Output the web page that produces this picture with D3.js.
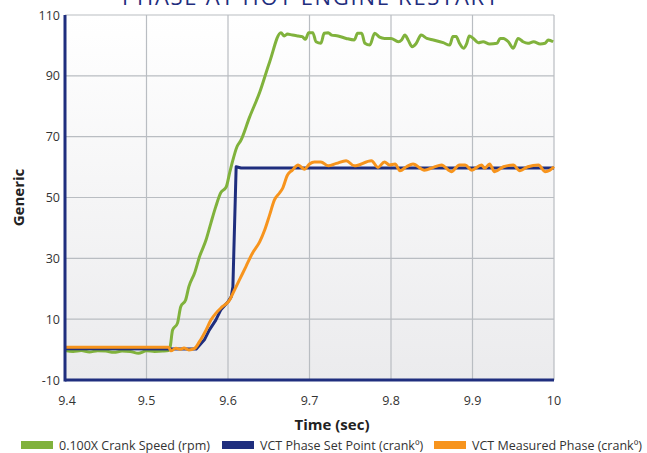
<!DOCTYPE html>
<html>
<head>
<meta charset="utf-8">
<script src="https://cdn.jsdelivr.net/npm/d3@7"></script>
<style>
    body { margin: 0; background: #fff; }
    svg { font-family: "Open Sans", sans-serif; }
</style>
</head>
<body>
<svg id="chart"></svg>
<script>
const chart = { width: 647, height: 453 }
const padding = { left: 65, right: 93, top: 15, bottom: 73 }

const title = "PHASE AT HOT ENGINE RESTART"
const xTicks = [9.4, 9.5, 9.6, 9.7, 9.8, 9.9, 10]
const yTicks = [-10, 10, 30, 50, 70, 90, 110]
const seriesNames = ["0.100X Crank Speed (rpm)", "VCT Phase Set Point (crankº)", "VCT Measured Phase (crankº)"]
const seriesColors = ["#80b23c", "#1f2e7e", "#f7941d"]

// crank speed (x0.1)
const crankTime = [9.40, 9.41, 9.42, 9.43, 9.44, 9.45, 9.46, 9.47, 9.48, 9.49, 9.50, 9.51, 9.52, 9.527,
    9.529, 9.532, 9.538, 9.542, 9.548, 9.552, 9.559, 9.565, 9.573, 9.579, 9.585, 9.591, 9.598, 9.602, 9.605,
    9.611, 9.616, 9.626, 9.639, 9.651, 9.665, 9.669, 9.673, 9.679, 9.686, 9.691, 9.695, 9.699, 9.704, 9.708,
    9.714, 9.718, 9.723, 9.727, 9.735, 9.745, 9.755, 9.759, 9.764, 9.768, 9.774, 9.780, 9.786, 9.792, 9.800,
    9.809, 9.813, 9.817, 9.821, 9.826, 9.831, 9.837, 9.844, 9.852, 9.864, 9.872, 9.876, 9.880, 9.884, 9.889,
    9.893, 9.896, 9.901, 9.907, 9.913, 9.921, 9.930, 9.934, 9.938, 9.944, 9.950, 9.956, 9.962, 9.968, 9.975,
    9.983, 9.989, 9.993, 9.999]
const crankValue = [-0.3, -0.6, -0.3, -0.8, -0.4, -0.5, -0.9, -0.5, -0.6, -1.2, -0.4, -0.6, -0.5, -0.3,
    0.8, 6.4, 8.7, 14.1, 16.3, 20.7, 25.2, 30.5, 36.0, 41.6, 47.0, 51.5, 53.6, 58.1, 61.3,
    66.7, 68.9, 76.1, 84.7, 94.5, 104.2, 103.1, 103.75, 103.4, 103.1, 102.9, 102.0, 104.2, 104.2, 101.2,
    100.7, 104.0, 104.2, 103.4, 103.1, 102.3, 101.8, 104.0, 104.0, 100.7, 100.1, 104.0, 102.7, 102.3, 102.3,
    101.2, 101.8, 103.4, 101.8, 99.6, 100.7, 103.4, 102.3, 101.8, 100.9, 100.1, 102.9, 102.9, 100.7, 99.1,
    100.7, 103.1, 102.3, 100.9, 101.2, 100.5, 100.7, 102.3, 102.3, 101.2, 99.1, 102.3, 101.2, 100.7, 101.2,
    100.5, 100.7, 101.8, 101.2]

// phase set point
const setTime = [9.40, 9.561, 9.571, 9.577, 9.585, 9.591, 9.600, 9.604, 9.606, 9.610, 9.616, 10.0]
const setValue = [0.3, 0.2, 3.2, 6.4, 9.7, 13.0, 15.7, 17.4, 20.7, 60.1, 59.7, 59.7]

// measured phase
const measTime = [9.40, 9.527, 9.530, 9.536, 9.542, 9.546, 9.552, 9.559, 9.565, 9.573, 9.579, 9.585, 9.593,
    9.602, 9.606, 9.614, 9.622, 9.630, 9.639, 9.645, 9.651, 9.657, 9.663, 9.667, 9.673, 9.679, 9.686, 9.694,
    9.700, 9.706, 9.714, 9.723, 9.733, 9.745, 9.755, 9.776, 9.784, 9.792, 9.798, 9.805, 9.811, 9.819, 9.827,
    9.841, 9.852, 9.862, 9.874, 9.884, 9.891, 9.899, 9.911, 9.915, 9.921, 9.927, 9.938, 9.950, 9.958, 9.968,
    9.981, 9.989, 9.995, 10.0]
const measValue = [0.8, 0.8, -0.4, 0.4, 0.1, 0.5, -0.1, 0.4, 2.6, 6.4, 9.7, 11.9, 14.1,
    16.3, 18.5, 22.9, 27.3, 31.7, 35.5, 39.3, 44.2, 49.2, 51.4, 53.0, 57.4, 59.0, 60.7, 59.3,
    61.0, 61.7, 61.7, 60.4, 61.2, 62.1, 60.4, 62.1, 59.9, 61.7, 60.7, 61.0, 58.8, 60.1, 61.0,
    59.0, 59.9, 60.7, 58.5, 60.7, 60.7, 59.0, 60.7, 59.6, 61.0, 58.5, 60.1, 60.7, 58.8, 60.1,
    60.7, 58.5, 59.0, 60.1]

const series = [
    crankTime.map((t, i) => ({ x: t, y: crankValue[i] })),
    setTime.map((t, i) => ({ x: t, y: setValue[i] })),
    measTime.map((t, i) => ({ x: t, y: measValue[i] }))
]

const svg = d3.select("#chart")
    .attr("width", chart.width)
    .attr("height", chart.height)

const scaleX = d3.scaleLinear()
    .domain([9.4, 10])
    .range([padding.left, chart.width - padding.right])

const scaleY = d3.scaleLinear()
    .domain([-10, 110])
    .range([chart.height - padding.bottom, padding.top])

const x0 = scaleX(9.4), x1 = scaleX(10)
const y0 = scaleY(-10), y1 = scaleY(110)

// plot background gradient
const grad = svg.append("defs").append("linearGradient")
    .attr("id", "bg").attr("x1", 0).attr("y1", 0).attr("x2", 0).attr("y2", 1)
grad.append("stop").attr("offset", "0%").attr("stop-color", "#ffffff")
grad.append("stop").attr("offset", "100%").attr("stop-color", "#ebebed")

svg.append("rect")
    .attr("x", x0).attr("y", y1)
    .attr("width", x1 - x0).attr("height", y0 - y1)
    .attr("fill", "url(#bg)")

// title, mostly cut off at the top like the source
svg.append("text")
    .attr("x", 310).attr("y", 5)
    .attr("text-anchor", "middle")
    .attr("fill", "#1f2e7e")
    .attr("font-size", 22)
    .attr("textLength", 376)
    .attr("lengthAdjust", "spacing")
    .text(title)

// grid
svg.append("g").selectAll("line")
    .data(yTicks.slice(1))
    .join("line")
    .attr("x1", x0).attr("x2", x1)
    .attr("y1", d => scaleY(d)).attr("y2", d => scaleY(d))
    .attr("stroke", "#b9bdc2").attr("stroke-width", 1.2)

svg.append("g").selectAll("line")
    .data(xTicks.slice(1))
    .join("line")
    .attr("x1", d => scaleX(d)).attr("x2", d => scaleX(d))
    .attr("y1", y1).attr("y2", y0)
    .attr("stroke", "#b9bdc2").attr("stroke-width", 1.2)

// y tick labels
svg.append("g").selectAll("text")
    .data(yTicks)
    .join("text")
    .attr("x", x0 - 5)
    .attr("y", d => scaleY(d) + 4.5)
    .attr("text-anchor", "end")
    .attr("font-size", 12.5)
    .attr("fill", "#333")
    .text(d => d)

// x tick labels
svg.append("g").selectAll("text")
    .data(xTicks)
    .join("text")
    .attr("x", d => scaleX(d) + (d === 9.4 ? 2 : 0))
    .attr("y", y0 + 25)
    .attr("text-anchor", "middle")
    .attr("font-size", 12.5)
    .attr("fill", "#333")
    .text(d => d === 10 ? "10" : d.toFixed(1))

// lines
const smooth = d3.line()
    .curve(d3.curveMonotoneX)
    .x(d => scaleX(d.x))
    .y(d => scaleY(d.y))
const straight = d3.line()
    .x(d => scaleX(d.x))
    .y(d => scaleY(d.y))

series.forEach((data, i) => {
    svg.append("path")
        .datum(data)
        .attr("fill", "none")
        .attr("stroke", seriesColors[i])
        .attr("stroke-width", 3)
        .attr("stroke-linejoin", "round")
        .attr("d", i === 1 ? straight : smooth)
})

// axis lines
svg.append("line")
    .attr("x1", x0).attr("x2", x0).attr("y1", y1).attr("y2", y0 + 1.5)
    .attr("stroke", "#1f2e7e").attr("stroke-width", 3)
svg.append("line")
    .attr("x1", x0).attr("x2", x1).attr("y1", y0).attr("y2", y0)
    .attr("stroke", "#1f2e7e").attr("stroke-width", 3)

// axis titles
svg.append("text")
    .attr("transform", "translate(24," + ((y0 + y1) / 2) + ") rotate(-90)")
    .attr("text-anchor", "middle")
    .attr("font-size", 15)
    .attr("font-weight", "bold")
    .attr("fill", "#222")
    .text("Generic")

svg.append("text")
    .attr("x", 332).attr("y", 430)
    .attr("text-anchor", "middle")
    .attr("font-size", 15)
    .attr("font-weight", "bold")
    .attr("fill", "#222")
    .text("Time (sec)")

// legend
const legendX = [21, 222, 434]
const legend = svg.append("g").selectAll("g")
    .data(seriesNames)
    .join("g")
    .attr("transform", (d, i) => "translate(" + legendX[i] + ",441)")

legend.append("rect")
    .attr("width", 32).attr("height", 8)
    .attr("fill", (d, i) => seriesColors[i])

legend.append("text")
    .attr("x", 38).attr("y", 8.5)
    .attr("font-size", 12.5)
    .attr("fill", "#333")
    .text(d => d)
</script>
</body>
</html>
